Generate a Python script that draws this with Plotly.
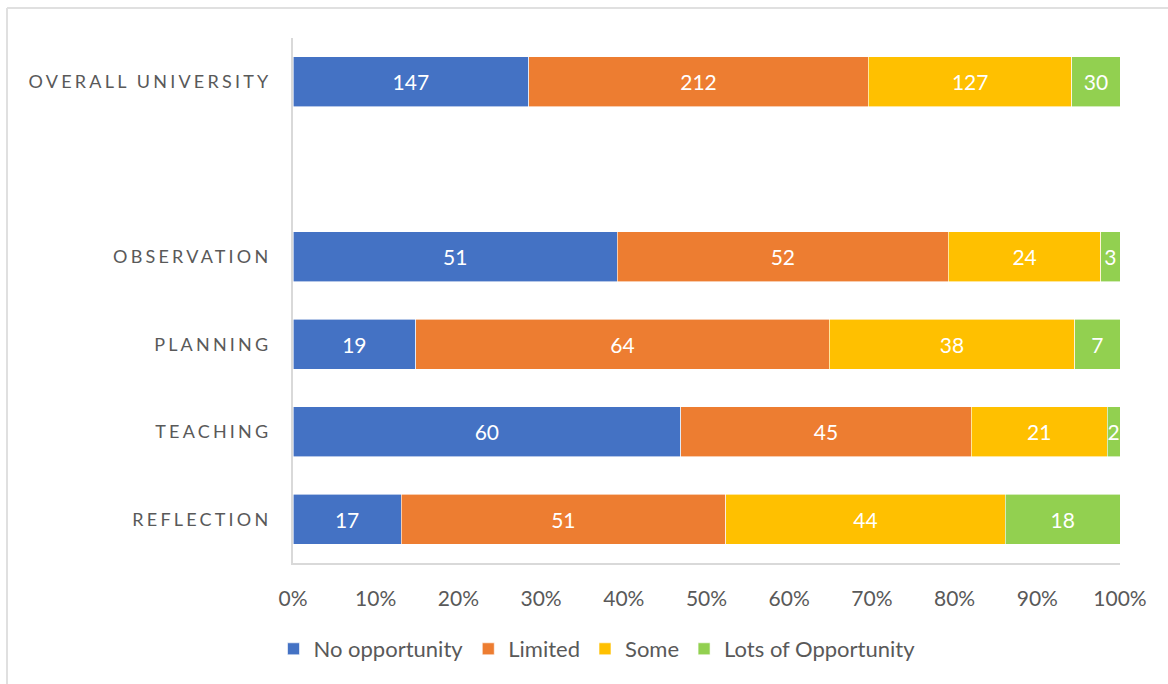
import plotly.graph_objects as go

categories = ["OVERALL UNIVERSITY", " ", "OBSERVATION", "PLANNING", "TEACHING", "REFLECTION"]
series_names = ["No opportunity", "Limited", "Some", "Lots of Opportunity"]
no_opportunity = [147, None, 51, 19, 60, 17]
limited = [212, None, 52, 64, 45, 51]
some = [127, None, 24, 38, 21, 44]
lots = [30, None, 3, 7, 2, 18]
colors = ["#4472C4", "#ED7D31", "#FFC000", "#92D050"]
x_ticks = list(range(0, 101, 10))

FONT = "Lato"
GREY = "#595959"

fig = go.Figure()
for name, vals, col in zip(series_names, [no_opportunity, limited, some, lots], colors):
    fig.add_trace(go.Bar(
        y=categories, x=vals, name=name, orientation="h",
        marker=dict(color=col, line=dict(color="white", width=0.6)),
        text=[("" if v is None else str(v)) for v in vals],
        texttemplate="%{text}",
        textposition="inside", insidetextanchor="middle",
        constraintext="none",
        textfont=dict(family=FONT, size=21, color="white"),
        hovertemplate="%{y}: %{text}<extra>" + name + "</extra>",
    ))

L, R, T, B = 293, 48, 38, 121
W, H = 1168, 684
pw, ph = W - L - R, H - T - B

def px_x(x):
    return (x - L) / pw

def px_y(y):
    return (H - B - y) / ph

fig.update_layout(
    width=W, height=H,
    barmode="stack", barnorm="percent", bargap=0.43,
    margin=dict(l=L, r=R, t=T, b=B),
    plot_bgcolor="white", paper_bgcolor="white",
    font=dict(family=FONT, color=GREY),
    xaxis=dict(
        range=[0, 100], tickvals=x_ticks, ticktext=[f"{v}%" for v in x_ticks],
        showgrid=False, zeroline=False, showline=True, linecolor="#d9d9d9", linewidth=2,
        ticks="", ticklabelstandoff=16, tickfont=dict(family=FONT, size=21, color=GREY),
        fixedrange=True,
    ),
    yaxis=dict(
        type="category", categoryorder="array", categoryarray=categories,
        autorange="reversed", showgrid=False, zeroline=False,
        showline=True, linecolor="#d9d9d9", linewidth=2,
        ticks="", ticklabelstandoff=16, tickfont=dict(family=FONT, size=18, color=GREY),
        fixedrange=True,
    ),
    legend=dict(
        orientation="h", x=px_x(597), xanchor="center", y=px_y(649), yanchor="middle",
        font=dict(family=FONT, size=22, color=GREY), itemwidth=30,
        traceorder="normal", bgcolor="rgba(0,0,0,0)",
    ),
    showlegend=True,
    shapes=[
        dict(type="line", xref="paper", yref="paper", x0=px_x(7), x1=px_x(1168),
             y0=px_y(8), y1=px_y(8), line=dict(color="#e0e0e0", width=2)),
        dict(type="line", xref="paper", yref="paper", x0=px_x(7), x1=px_x(7),
             y0=px_y(8), y1=px_y(684), line=dict(color="#e0e0e0", width=2)),
    ],
)

post = """
var gd = document.getElementById('{plot_id}');
gd.querySelectorAll('.ytick text').forEach(function(t){ t.style.letterSpacing = '3.2px'; });
"""

fig.write_html("out.html", post_script=post)
